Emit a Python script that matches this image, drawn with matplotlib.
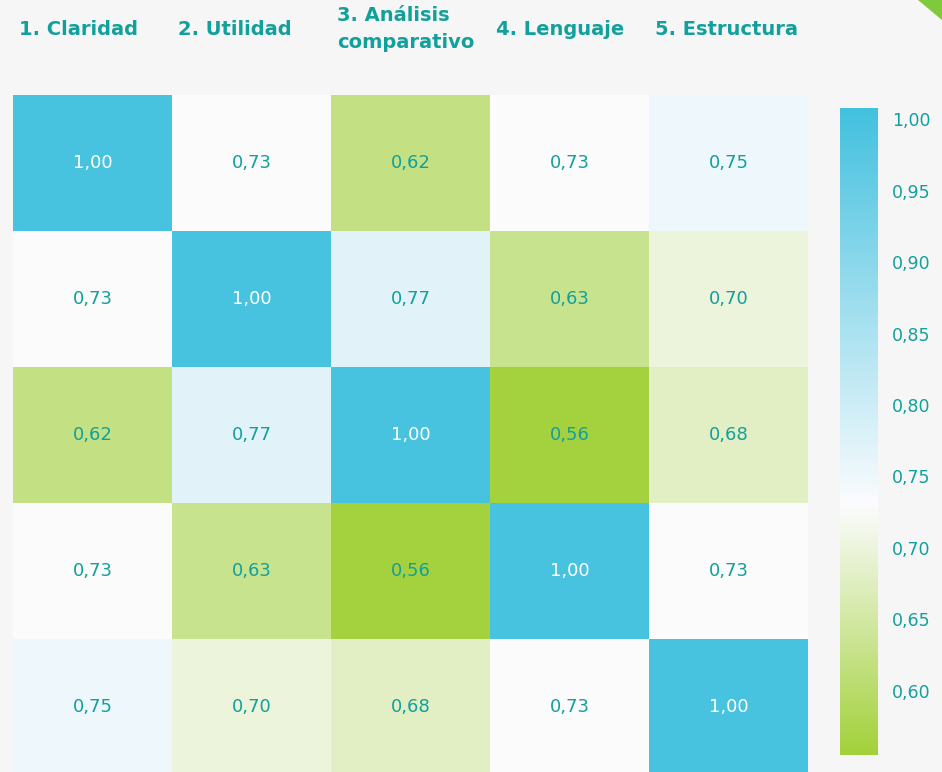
import matplotlib
matplotlib.use("Agg")
import matplotlib.pyplot as plt
import numpy as np
from matplotlib.colors import LinearSegmentedColormap, Normalize
from matplotlib.patches import Polygon

# criterios y matriz de correlación
criterios = ["1. Claridad", "2. Utilidad", "3. Análisis\ncomparativo", "4. Lenguaje", "5. Estructura"]
corr = [
    [1.00, 0.73, 0.62, 0.73, 0.75],
    [0.73, 1.00, 0.77, 0.63, 0.70],
    [0.62, 0.77, 1.00, 0.56, 0.68],
    [0.73, 0.63, 0.56, 1.00, 0.73],
    [0.75, 0.70, 0.68, 0.73, 1.00],
]
cbar_ticks = [0.60, 0.65, 0.70, 0.75, 0.80, 0.85, 0.90, 0.95, 1.00]

teal = "#12a09c"
bg = "#f6f6f6"
vmin, vmax = 0.555, 1.008

# verde -> blanco -> celeste
mid = (0.73 - vmin) / (vmax - vmin)
cmap = LinearSegmentedColormap.from_list(
    "vb", [(0.0, "#a3d13b"), (mid, "#fcfcfe"), (1.0, "#43c1df")])
norm = Normalize(vmin=vmin, vmax=vmax)

fig = plt.figure(figsize=(9.42, 7.72), dpi=100, facecolor=bg)
W, H = 942, 772

ax = fig.add_axes([13 / W, (H - 775) / H, 795 / W, 680 / H])
data = np.array(corr)
ax.imshow(data, cmap=cmap, norm=norm, aspect="auto")
n = len(criterios)
for i in range(n):
    for j in range(n):
        txt = ("%.2f" % data[i, j]).replace(".", ",")
        col = "white" if data[i, j] >= 0.99 else teal
        ax.text(j, i, txt, ha="center", va="center", color=col, fontsize=13)

ax.set_xticks([])
ax.set_yticks([])
for s in ax.spines.values():
    s.set_visible(False)

# etiquetas de columna arriba
for j, lab in enumerate(criterios):
    ax.text(j - 0.5 + 6 / 159, 1.097, lab, transform=ax.get_xaxis_transform(),
            ha="left", va="center", color=teal, fontsize=14, fontweight="bold",
            linespacing=1.5)

# barra de color
cax = fig.add_axes([840 / W, (H - 755) / H, 38 / W, 647 / H])
grad = np.linspace(vmin, vmax, 300).reshape(-1, 1)
cax.imshow(grad, cmap=cmap, norm=norm, aspect="auto", origin="lower",
           extent=[0, 1, vmin, vmax])
cax.set_xticks([])
cax.yaxis.tick_right()
cax.set_yticks(cbar_ticks)
cax.set_yticklabels([("%.2f" % t).replace(".", ",") for t in cbar_ticks])
cax.tick_params(axis="y", length=0, pad=10, labelsize=12.5, labelcolor=teal)
for s in cax.spines.values():
    s.set_visible(False)

# decoración esquina superior derecha
fig.patches.append(Polygon([[918 / W, 1.0], [1.0, 1.0], [1.0, (H - 20) / H]],
                           closed=True, transform=fig.transFigure,
                           facecolor="#7fc93a", edgecolor="none"))

fig.savefig("out.png", dpi=100, facecolor=bg)
